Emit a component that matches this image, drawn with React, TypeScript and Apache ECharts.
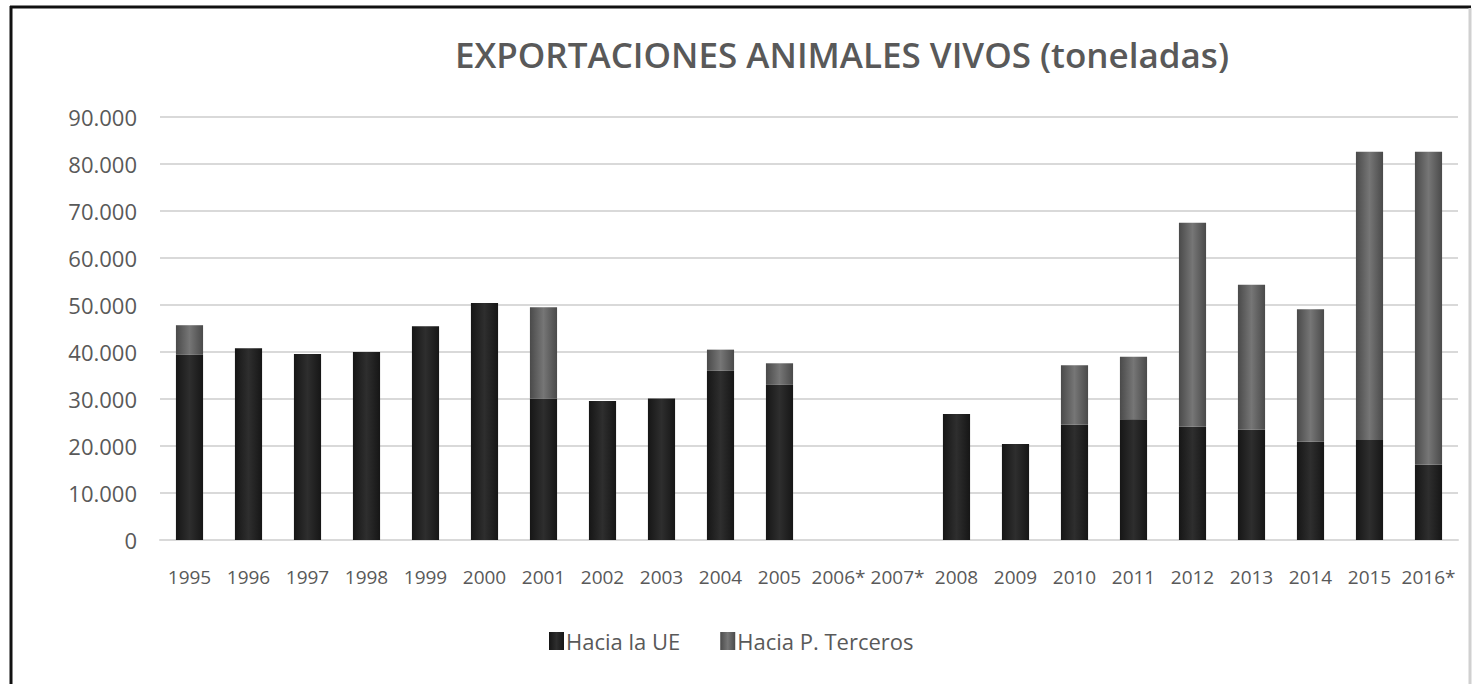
import React, { useEffect, useRef } from "react";
import * as echarts from "echarts";

const categories = ["1995", "1996", "1997", "1998", "1999", "2000", "2001", "2002", "2003", "2004", "2005", "2006*", "2007*", "2008", "2009", "2010", "2011", "2012", "2013", "2014", "2015", "2016*"];
const haciaUE = [39400, 40800, 39600, 40000, 45500, 50400, 30100, 29600, 30100, 36000, 33000, null, null, 26800, 20400, 24500, 25700, 24100, 23500, 20900, 21300, 16000];
const haciaTerceros = [6300, 0, 0, 0, 0, 0, 19400, 0, 0, 4500, 4600, null, null, 0, 0, 12700, 13300, 43400, 30800, 28200, 61300, 66600];
const titleText = "EXPORTACIONES ANIMALES VIVOS (toneladas)";
const seriesNames = ["Hacia la UE", "Hacia P. Terceros"];

const grad = (edge: string, mid: string) =>
  new echarts.graphic.LinearGradient(0, 0, 1, 0, [
    { offset: 0, color: edge },
    { offset: 0.5, color: mid },
    { offset: 1, color: edge },
  ]);

export default function App() {
  const ref = useRef<HTMLDivElement>(null);
  useEffect(() => {
    if (!ref.current) return;
    const chart = echarts.init(ref.current, null, { renderer: "svg" });
    const font = "'Open Sans', 'Noto Sans', sans-serif";
    chart.setOption({
      animation: false,
      backgroundColor: "#ffffff",
      textStyle: { fontFamily: font },
      title: {
        text: titleText,
        left: 837,
        textAlign: "center",
        top: 32,
        textStyle: { fontSize: 35, fontWeight: 600, color: "#595959", fontFamily: font },
      },
      grid: { left: 160, right: 21, top: 117, bottom: 144, containLabel: false },
      legend: {
        top: 625,
        left: 544,
        icon: "rect",
        itemWidth: 15,
        itemHeight: 18,
        itemGap: 40,
        textStyle: { fontSize: 22, color: "#595959", fontFamily: font, padding: [0, 0, 0, -3] },
        data: seriesNames,
      },
      xAxis: {
        type: "category",
        data: categories,
        axisLine: { lineStyle: { color: "#d9d9d9", width: 2 } },
        axisTick: { show: false },
        axisLabel: { interval: 0, fontSize: 19, color: "#595959", margin: 27 },
      },
      yAxis: {
        type: "value",
        min: 0,
        max: 90000,
        interval: 10000,
        axisLine: { show: false },
        axisTick: { show: false },
        splitLine: { lineStyle: { color: "#d9d9d9", width: 2 } },
        axisLabel: {
          fontSize: 22,
          color: "#595959",
          margin: 23,
          formatter: (v: number) => v.toLocaleString("de-DE"),
        },
      },
      series: [
        {
          name: seriesNames[0],
          type: "bar",
          stack: "total",
          barWidth: "46%",
          data: haciaUE,
          itemStyle: { color: grad("#161616", "#2e2e2e") },
        },
        {
          name: seriesNames[1],
          type: "bar",
          stack: "total",
          barWidth: "46%",
          data: haciaTerceros,
          itemStyle: { color: grad("#4a4a4a", "#767676") },
        },
      ],
      graphic: [
        { type: "line", shape: { x1: 10, y1: 7, x2: 1471, y2: 7 }, style: { stroke: "#111", lineWidth: 3 } },
        { type: "line", shape: { x1: 11, y1: 6, x2: 11, y2: 684 }, style: { stroke: "#111", lineWidth: 3 } },
        { type: "line", shape: { x1: 1470, y1: 8, x2: 1470, y2: 684 }, style: { stroke: "#d0d0d0", lineWidth: 3 } },
      ],
    });
    return () => chart.dispose();
  }, []);
  return (
    <div
      ref={ref}
      style={{ position: "fixed", left: 0, top: 0, width: 1479, height: 684 }}
    />
  );
}
